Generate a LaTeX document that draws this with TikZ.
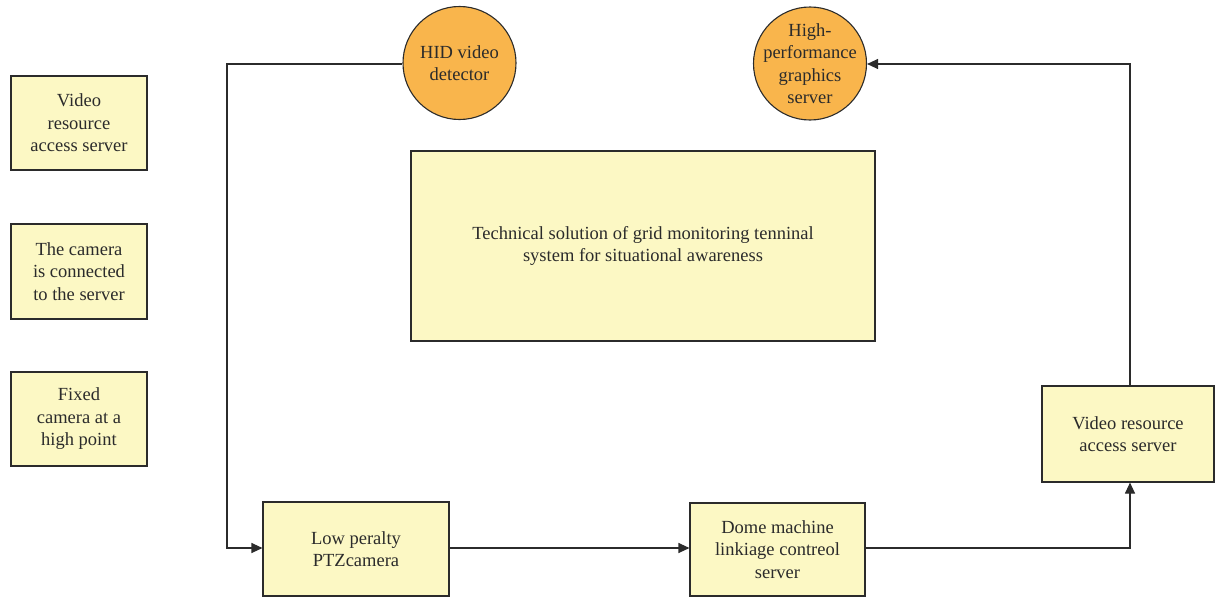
\documentclass[tikz,border=0pt]{standalone}
\usepackage{fontspec}
\setmainfont{Liberation Serif}
\usetikzlibrary{arrows.meta}
\definecolor{boxfill}{HTML}{FCF8C4}
\definecolor{nodeorange}{HTML}{F9B54C}
\definecolor{inkgray}{HTML}{2B2B2B}
\begin{document}
\begin{tikzpicture}[x=1pt,y=-1pt,
  every node/.style={font=\fontsize{18.5}{22.5}\selectfont, text=inkgray, align=center, inner sep=0pt},
  ybox/.style={draw=inkgray, line width=1.1pt, fill=boxfill, rectangle},
  ocirc/.style={draw=inkgray, line width=1.1pt, fill=nodeorange, circle, minimum size=113pt},
  link/.style={draw=inkgray, line width=1.1pt, -{Triangle[length=11pt,width=10pt]}}]
\useasboundingbox (0,0) rectangle (1215,597);

% legend boxes on the left
\node[ybox, minimum width=136pt, minimum height=94pt] (legA) at (79,123) {Video\\resource\\access server};
\node[ybox, minimum width=136pt, minimum height=95pt] (legB) at (79,271.5) {The camera\\is connected\\to the server};
\node[ybox, minimum width=136pt, minimum height=94pt] (legC) at (79,419) {Fixed\\camera at a\\high point};

% top circles (fixed size, text laid over the centre)
\node[ocirc, label={[align=center]center:HID video\\detector}] (hid) at (459.5,63) {};
\node[ocirc, label={[align=center]center:High-\\performance\\graphics\\server}] (hpg) at (810,63.5) {};

% central title box
\node[ybox, minimum width=464pt, minimum height=190pt] (title) at (643,246) {Technical solution of grid monitoring tenninal\\system for situational awareness};

% bottom chain
\node[ybox, minimum width=186pt, minimum height=94pt] (ptz) at (356,549) {Low peralty\\PTZcamera};
\node[ybox, minimum width=175pt, minimum height=93pt] (dome) at (777.5,549.5) {Dome machine\\linkiage contreol\\server};
\node[ybox, minimum width=172pt, minimum height=96pt] (vras) at (1128,434) {Video resource\\access server};

% connectors
\coordinate (c1) at (227,64);
\coordinate (c2) at (227,548);
\draw[link] (hid.west |- c1) -- (c1) -- (c2) -- (ptz.west |- c2);
\draw[link] (ptz.east |- 0,548) -- (dome.west |- 0,548);
\coordinate (c3) at (1130,548);
\draw[link] (dome.east |- c3) -- (c3) -- (c3 |- vras.south);
\coordinate (c4) at (1130,64);
\draw[link] (c4 |- vras.north) -- (c4) -- (hpg.east |- c4);
\end{tikzpicture}
\end{document}
